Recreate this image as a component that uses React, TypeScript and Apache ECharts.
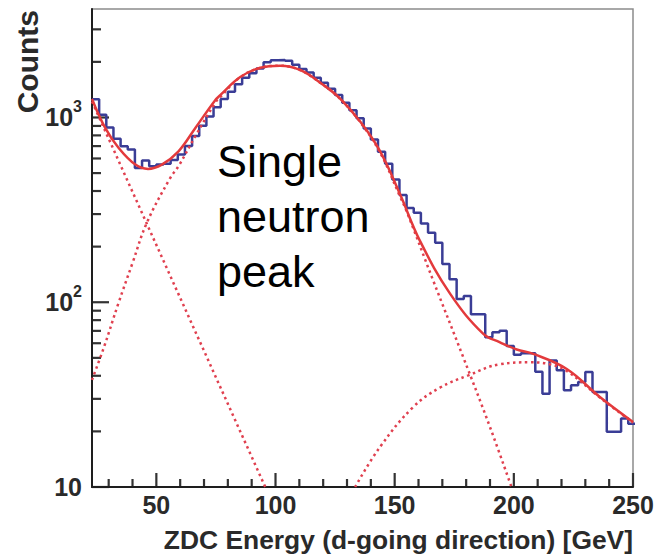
import React, { useEffect, useRef } from 'react';
import * as echarts from 'echarts';

// ---- axis ranges ----
const X_MIN = 23;
const X_MAX = 250;
const Y_MIN = 10;
const Y_MAX = 3865;

// ---- histogram (ZDC energy, 3 GeV bins starting at 23 GeV) ----
const BIN_START = 23;
const BIN_WIDTH = 3;
const histCounts = [
  1256, 1035, 883, 767, 698, 670, 533, 585, 545, 556,
  562, 589, 631, 700, 794, 902, 1012, 1135, 1259, 1380,
  1514, 1641, 1738, 1841, 1990, 2040, 2050, 2030, 1930, 1828,
  1750, 1641, 1542, 1429, 1324, 1202, 1096, 989, 871, 759,
  653, 562, 462, 380, 324, 305, 267, 238, 210, 161,
  133, 104, 108, 86, 86, 64.6, 68.7, 70, 58, 52,
  53, 53, 42, 32, 48.4, 42.8, 33.4, 35.5, 37, 41.9,
  32.7, 32.7, 19.9, 19.9, 23.5, 22,
];

// ---- total fit (solid red) ----
const fitCurve: [number, number][] = [
  [23, 1260], [28.6, 875], [34.2, 684], [41.2, 556], [46.5, 527], [52.3, 556],
  [59.3, 656], [66.3, 875], [74.7, 1240], [76.8, 1320], [85.2, 1655], [93.6, 1860],
  [101.9, 1908], [110.3, 1808], [120.1, 1500], [127.1, 1266], [135.5, 951],
  [143.9, 656], [152.3, 383], [160.6, 215], [173.3, 111], [187.2, 67.4],
  [194.2, 60.7], [201.2, 55.5], [208.2, 52.5], [222.2, 43.5], [236.1, 30.7], [250, 22.5],
];

// ---- fit components (dotted red) ----
const expComponent: [number, number][] = [[23, 1220], [46.06, 265], [95.7, 10]];
const singlePeak: [number, number][] = [
  [23, 38], [28, 57], [34, 98], [40, 163], [46, 269], [55.8, 470], [59.3, 545],
  [66.3, 790], [74.7, 1200], [76.8, 1290], [85.2, 1650], [93.6, 1855], [101.9, 1905],
  [110.3, 1805], [120.1, 1498], [127.1, 1262], [135.5, 945], [143.9, 645],
  [152.3, 372], [155, 311], [166.2, 130.6], [178.8, 50.3], [190, 21.1], [199, 10],
];
const doublePeak: [number, number][] = [
  [133.4, 10], [143.9, 16.5], [157.8, 27.1], [169, 34.5], [180.9, 40.2], [194.2, 46.2],
  [206.8, 47.3], [215, 46.2], [222.2, 42.5], [236.1, 30.5], [250, 22.3],
];

// ---- ticks ----
const xMajorTicks = [50, 100, 150, 200, 250];
const xMinorTicks = [30, 40, 60, 70, 80, 90, 110, 120, 130, 140, 160, 170, 180, 190, 210, 220, 230, 240];
const yMajorTicks = [10, 100, 1000];
const yTickExponents = ['', '2', '3'];
const yMinorTicks = [20, 30, 40, 50, 60, 70, 80, 90, 200, 300, 400, 500, 600, 700, 800, 900, 2000, 3000];

const xTitle = 'ZDC Energy (d-going direction) [GeV]';
const yTitle = 'Counts';
const annotation = 'Single\nneutron\npeak';

const AXIS_TEXT = '#2a2a2a';
const AXIS_LINE = '#1e1e1e';
const TICK_FILL = '#333333';
const FONT = '"Liberation Sans", Arial, Helvetica, sans-serif';
const BLUE = '#3a3d96';
const RED = '#e33a3c';
const RED_DOT = '#e0404f';

export default function App() {
  const ref = useRef<HTMLDivElement>(null);

  useEffect(() => {
    if (!ref.current) return;
    const chart = echarts.init(ref.current, null, { renderer: 'svg' });

    const histData: [number, number][] = histCounts.map((c, i) => [BIN_START + i * BIN_WIDTH, c]);
    histData.push([BIN_START + histCounts.length * BIN_WIDTH, histCounts[histCounts.length - 1]]);

    const dotted = { color: RED_DOT, width: 2.5, type: [2.5, 3.5] as any };

    const texts: any[] = [
      {
        type: 'text', x: 27, y: 10, rotation: Math.PI / 2,
        style: { text: yTitle, fontSize: 30, fontWeight: 'bold', fontFamily: FONT, fill: AXIS_TEXT, align: 'right', verticalAlign: 'middle' },
      },
      {
        type: 'text', x: 633, y: 540,
        style: { text: xTitle, fontSize: 26.4, fontWeight: 'bold', fontFamily: FONT, fill: AXIS_TEXT, align: 'right', verticalAlign: 'middle' },
      },
      {
        type: 'text', x: 217, y: 134, z: 100,
        style: { text: annotation, fontSize: 45, lineHeight: 55, fontFamily: FONT, fill: '#000000', align: 'left', verticalAlign: 'top' },
      },
    ];

    const option: any = {
      animation: false,
      backgroundColor: '#ffffff',
      grid: {
        left: 92, right: 25, top: 9, bottom: 70,
        show: true, borderColor: '#8c8c8c', borderWidth: 1.5,
        containLabel: false, outerBoundsMode: 'none',
      },
      xAxis: {
        type: 'value', min: X_MIN, max: X_MAX,
        axisLine: { show: true, onZero: false, lineStyle: { color: AXIS_LINE, width: 2 } },
        axisTick: { show: false },
        axisLabel: { customValues: xMajorTicks, fontSize: 25, fontWeight: 'bold', fontFamily: FONT, color: AXIS_TEXT, margin: 5 },
        splitLine: { show: false },
      },
      yAxis: {
        type: 'log', logBase: 10, min: Y_MIN, max: Y_MAX,
        axisLine: { show: true, onZero: false, lineStyle: { color: AXIS_LINE, width: 2 } },
        axisTick: { show: false },
        axisLabel: {
          customValues: yMajorTicks,
          margin: 10,
          formatter: (v: number) => {
            const idx = yMajorTicks.findIndex((t) => Math.abs(t - v) / t < 1e-6);
            const e = idx >= 0 ? yTickExponents[idx] : '';
            return e ? `{b|10}{s|${e}}` : '{b|10}';
          },
          rich: {
            b: { fontSize: 25, fontWeight: 'bold', fontFamily: FONT, color: AXIS_TEXT, lineHeight: 38 },
            s: { fontSize: 16, fontWeight: 'bold', fontFamily: FONT, color: AXIS_TEXT, lineHeight: 16, verticalAlign: 'top' },
          },
        },
        splitLine: { show: false },
      },
      graphic: texts,
      series: [
        { name: 'data', type: 'line', step: 'end', data: histData, symbol: 'none', lineStyle: { color: BLUE, width: 2.5 }, z: 2 },
        { name: 'exp', type: 'line', data: expComponent, symbol: 'none', lineStyle: dotted, z: 3 },
        { name: 'single', type: 'line', data: singlePeak, smooth: 0.4, symbol: 'none', lineStyle: dotted, z: 3 },
        { name: 'double', type: 'line', data: doublePeak, smooth: 0.4, symbol: 'none', lineStyle: dotted, z: 3 },
        { name: 'fit', type: 'line', data: fitCurve, smooth: 0.4, symbol: 'none', lineStyle: { color: RED, width: 2.5 }, z: 4 },
      ],
    };

    chart.setOption(option);

    // Inside tick marks (ROOT style), placed through the chart's own scales
    const toPx = (x: number, y: number): number[] =>
      chart.convertToPixel({ gridIndex: 0 }, [x, y]) as number[];
    const W = 2.2;
    const ticks: any[] = [];
    const hTick = (v: number, len: number) => {
      const p = toPx(X_MIN, v);
      ticks.push({ type: 'rect', shape: { x: p[0], y: p[1] - W / 2, width: len, height: W }, style: { fill: TICK_FILL } });
    };
    const vTick = (x: number, len: number) => {
      const p = toPx(x, Y_MIN);
      ticks.push({ type: 'rect', shape: { x: p[0] - W / 2, y: p[1] - len, width: W, height: len }, style: { fill: TICK_FILL } });
    };
    yMajorTicks.forEach((v) => hTick(v, 17));
    yMinorTicks.forEach((v) => hTick(v, 9));
    xMajorTicks.forEach((x) => vTick(x, 14));
    xMinorTicks.forEach((x) => vTick(x, 8));
    chart.setOption({ graphic: [...texts, ...ticks] });

    return () => chart.dispose();
  }, []);

  return (
    <div ref={ref} style={{ position: 'fixed', left: 0, top: 0, width: 658, height: 557, background: '#fff' }} />
  );
}
